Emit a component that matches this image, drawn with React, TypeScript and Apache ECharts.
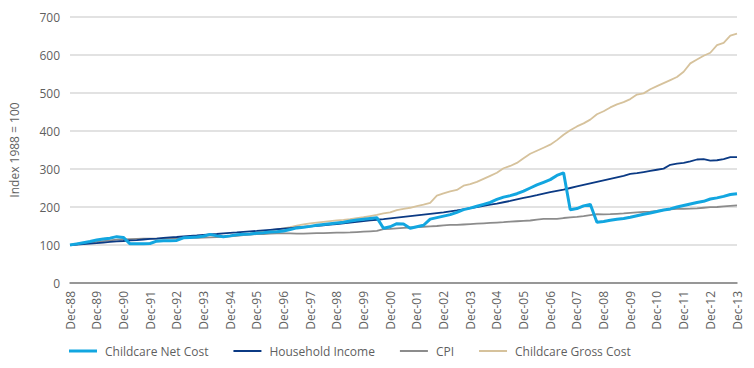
import React, { useEffect, useRef } from "react";
import * as echarts from "echarts";

// Year-end labels (Dec of each year) and quarter months
const yearLabels = ["88","89","90","91","92","93","94","95","96","97","98","99","00","01","02","03","04","05","06","07","08","09","10","11","12","13"];
const quarterMonths = ["Mar", "Jun", "Sep", "Dec"];

// Quarterly index values, Dec-88 = 100
const childcareNetCost = [
  100,
  103, 106, 109, 113,
  116, 118, 122, 120,
  103, 103, 103, 104,
  110, 111, 111, 112,
  119, 120, 121, 123,
  128, 124, 122, 124,
  127, 128, 129, 131,
  132, 134, 135, 137,
  141, 145, 147, 149,
  152, 154, 156, 158,
  160, 163, 166, 168,
  170, 172, 144, 148,
  156, 155, 144, 148,
  152, 168, 172, 176,
  180, 186, 193, 197,
  202, 207, 212, 220,
  226, 230, 235, 242,
  250, 258, 265, 272,
  283, 290, 193, 196,
  203, 207, 160, 162,
  165, 168, 170, 173,
  177, 181, 184, 188,
  192, 195, 200, 204,
  208, 212, 215, 221,
  224, 228, 233, 235,
];

const householdIncome = [
  100,
  101, 102.5, 104, 105,
  106.5, 108, 109.5, 110.5,
  112, 113, 114.5, 116,
  117, 118.5, 120, 121,
  122.5, 124, 125, 126.5,
  128, 129, 130.5, 132,
  133, 134.5, 136, 137,
  138.5, 140, 141.5, 143,
  144.5, 146, 147.5, 149,
  150.5, 152, 153.5, 155,
  157, 159, 161, 163,
  165, 166.5, 168, 170,
  172, 174, 176, 178,
  180, 182, 184, 186,
  188.5, 191, 194, 197,
  200, 203, 206, 209,
  212.5, 216, 220, 224,
  227.5, 231, 235, 239,
  242.5, 246, 250, 254,
  258, 262, 266, 270,
  274, 278, 282, 287,
  289, 292, 295, 298,
  301, 311, 314, 316,
  320, 325, 326, 322,
  323, 326, 331, 331,
];

const cpi = [
  100,
  102, 104, 106, 108,
  110, 112, 114, 115,
  115.5, 116, 116.5, 117,
  117, 117, 117.5, 117.5,
  118, 118.5, 119, 119.5,
  120, 120.5, 121.5, 122.5,
  124, 126, 127.5, 128.5,
  129, 130, 130.5, 130.5,
  130.5, 130, 130, 130.5,
  131, 131.5, 132, 132.5,
  132.5, 133, 134, 135,
  136, 137, 142, 142.5,
  144, 145, 146, 147,
  148, 149, 150, 151.5,
  153, 153, 154, 155,
  156, 157, 158, 159,
  160, 161.5, 162.5, 163.5,
  164.5, 167, 168.5, 169,
  169, 171, 172.5, 174,
  176, 178.5, 181, 180.5,
  181, 182, 183, 184.5,
  186, 187, 188, 189.5,
  191.5, 194, 195, 195,
  195.5, 196.5, 198, 199.5,
  200, 201.5, 203, 204.5,
];

const childcareGrossCost = [
  100,
  103, 106, 109, 113,
  116, 118, 122, 120,
  103, 103, 103, 104,
  110, 111, 111, 112,
  119, 120, 121, 123,
  128, 124, 122, 124,
  127, 128, 130, 133,
  136, 139, 141, 144,
  147, 151, 154, 157,
  159, 161, 163, 165,
  166, 168, 171, 173,
  176, 179, 183, 186,
  192, 195, 198, 202,
  206, 211, 230, 236,
  241, 245, 256, 260,
  266, 274, 282, 290,
  302, 308, 316, 328,
  340, 348, 356, 364,
  376, 390, 402, 412,
  420, 430, 444, 452,
  462, 470, 476, 484,
  496, 499, 510, 518,
  526, 534, 542, 556,
  578, 588, 598, 606,
  626, 632, 651, 656,
];

const seriesNames = ["Childcare Net Cost", "Household Income", "CPI", "Childcare Gross Cost"];
const seriesColors = ["#12a6e0", "#0b3a84", "#8c8c8c", "#d6c29c"];

const categories: string[] = (() => {
  const out: string[] = ["Dec-" + yearLabels[0]];
  for (let i = 1; i < yearLabels.length; i++) {
    for (const m of quarterMonths) out.push(m + "-" + yearLabels[i]);
  }
  return out;
})();

const FONT = "'Open Sans', sans-serif";
const TEXT = "#5f5f5f";
const THICK_ICON = "path://M0,0H28V3H0Z";
const THIN_ICON = "path://M0,0H28V2H0Z";

export default function App() {
  const ref = useRef<HTMLDivElement>(null);
  useEffect(() => {
    if (!ref.current) return;
    const chart = echarts.init(ref.current, null, { renderer: "svg" });
    chart.setOption({
      animation: false,
      backgroundColor: "#ffffff",
      textStyle: { fontFamily: FONT },
      grid: { left: 68, right: 17, top: 17, bottom: 85, containLabel: false },
      legend: {
        left: 64,
        top: 340,
        itemWidth: 28,
        itemHeight: 3,
        itemGap: 25,
        symbolKeepAspect: true,
        textStyle: { color: TEXT, fontSize: 12, fontFamily: FONT, padding: [0, 0, 0, 3] },
        data: seriesNames.map((n, i) => ({
          name: n,
          icon: i === 0 ? THICK_ICON : THIN_ICON,
          itemStyle: { color: seriesColors[i] },
        })),
      },
      xAxis: {
        type: "category",
        data: categories,
        boundaryGap: false,
        axisLine: { show: true, lineStyle: { color: "#7f7f7f", width: 1.5 } },
        axisTick: { show: false },
        axisLabel: {
          interval: 3,
          rotate: 90,
          margin: 8,
          color: TEXT,
          fontSize: 12,
          fontFamily: FONT,
        },
        splitLine: { show: false },
      },
      yAxis: {
        type: "value",
        min: 0,
        max: 700,
        interval: 100,
        name: "Index 1988 = 100",
        nameLocation: "middle",
        nameGap: 50,
        nameTextStyle: { color: TEXT, fontSize: 12, fontFamily: FONT },
        axisLine: { show: false },
        axisTick: { show: false },
        axisLabel: { color: TEXT, fontSize: 12, fontFamily: FONT, margin: 10 },
        splitLine: { lineStyle: { color: "#d9d9d9", width: 1.5 } },
      },
      series: [
        {
          name: seriesNames[0],
          type: "line",
          data: childcareNetCost,
          symbol: "none",
          showSymbol: false,
          z: 6,
          lineStyle: { color: seriesColors[0], width: 3 },
          itemStyle: { color: seriesColors[0] },
        },
        {
          name: seriesNames[1],
          type: "line",
          data: householdIncome,
          symbol: "none",
          showSymbol: false,
          z: 5,
          lineStyle: { color: seriesColors[1], width: 1.8 },
          itemStyle: { color: seriesColors[1] },
        },
        {
          name: seriesNames[2],
          type: "line",
          data: cpi,
          symbol: "none",
          showSymbol: false,
          z: 3,
          lineStyle: { color: seriesColors[2], width: 1.8 },
          itemStyle: { color: seriesColors[2] },
        },
        {
          name: seriesNames[3],
          type: "line",
          data: childcareGrossCost,
          symbol: "none",
          showSymbol: false,
          z: 4,
          lineStyle: { color: seriesColors[3], width: 1.8 },
          itemStyle: { color: seriesColors[3] },
        },
      ],
    });
    return () => chart.dispose();
  }, []);
  return (
    <div
      ref={ref}
      style={{ position: "fixed", left: 0, top: 0, width: 754, height: 368 }}
    />
  );
}
